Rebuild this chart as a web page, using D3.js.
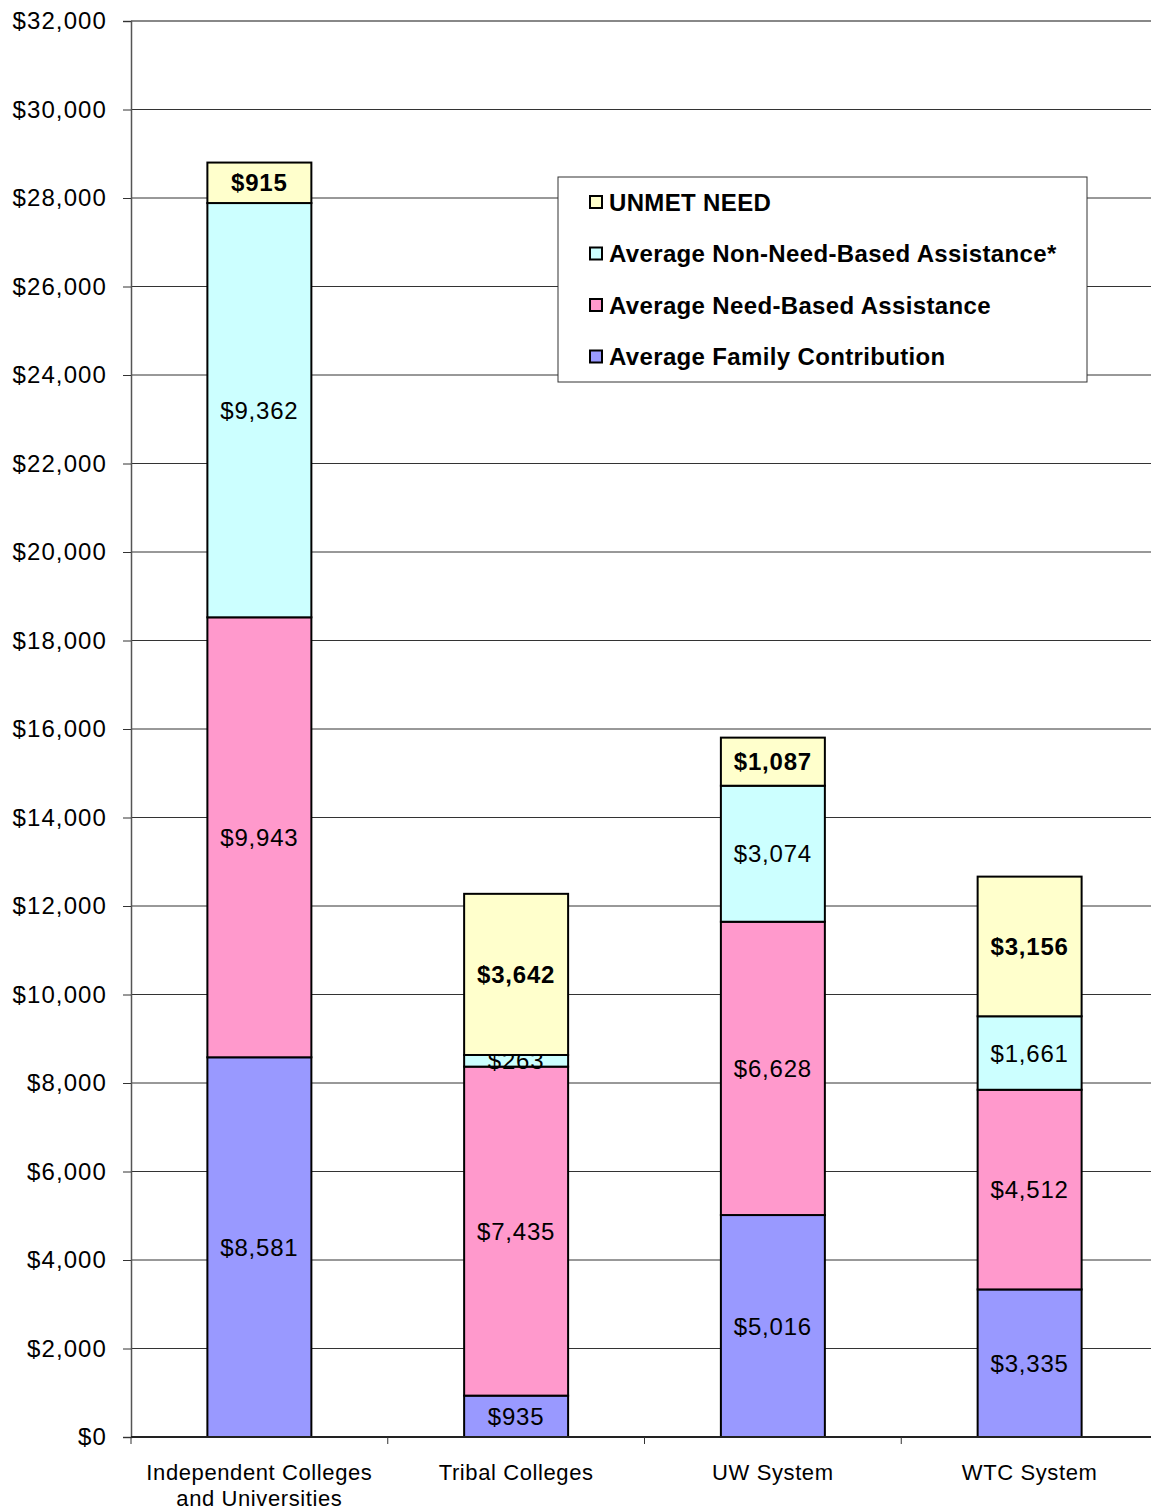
<!DOCTYPE html>
<html>
<head>
<meta charset="utf-8">
<script src="https://cdn.jsdelivr.net/npm/d3@7"></script>
<style>
    body { margin: 0; background: #fff; }
    svg { display: block; font-family: "Liberation Sans", Arial, sans-serif; }
</style>
</head>
<body>
<svg id="chart" width="1151" height="1512"></svg>
<script>
// chart data
const categories = [['Independent Colleges', 'and Universities'], ['Tribal Colleges'], ['UW System'], ['WTC System']];
const seriesNames = ['Average Family Contribution', 'Average Need-Based Assistance', 'Average Non-Need-Based Assistance*', 'UNMET NEED'];
const familyContribution = [8581, 935, 5016, 3335];
const needBased = [9943, 7435, 6628, 4512];
const nonNeedBased = [9362, 263, 3074, 1661];
const unmetNeed = [915, 3642, 1087, 3156];
const yTicks = [0, 2000, 4000, 6000, 8000, 10000, 12000, 14000, 16000, 18000, 20000, 22000, 24000, 26000, 28000, 30000, 32000];

const colors = ['#9999ff', '#ff99cc', '#ccffff', '#ffffcc'];

const svg = d3.select('#chart');
const margin = {top: 21, right: -7, bottom: 75, left: 131};
const width = +svg.attr('width') - margin.left - margin.right;
const height = +svg.attr('height') - margin.top - margin.bottom;

const g = svg.append('g')
    .attr('transform', `translate(${margin.left},${margin.top})`);

const rows = categories.map((c, i) => ({
    idx: i,
    s0: familyContribution[i],
    s1: needBased[i],
    s2: nonNeedBased[i],
    s3: unmetNeed[i]
}));

const stack = d3.stack().keys(['s0', 's1', 's2', 's3']);
const stacked = stack(rows);

const x = d3.scaleBand()
    .domain(d3.range(categories.length))
    .range([0, width])
    .paddingInner(0.595)
    .paddingOuter(0.2975);

const y = d3.scaleLinear()
    .domain([0, 32000])
    .range([height, 0]);

// gridlines
g.append('g')
    .selectAll('line')
    .data(yTicks.slice(1))
    .enter().append('line')
    .attr('x1', 0)
    .attr('x2', width)
    .attr('y1', d => y(d))
    .attr('y2', d => y(d))
    .attr('stroke', d => d === 32000 ? '#888' : '#333')
    .attr('stroke-width', d => d === 32000 ? 2 : 1);

// y axis
const yAxis = d3.axisLeft(y)
    .tickValues(yTicks)
    .tickSize(8)
    .tickFormat(d => '$' + d3.format(',')(d));

g.append('g')
    .attr('class', 'y-axis')
    .call(yAxis)
    .call(a => a.select('.domain').attr('stroke', '#555').attr('stroke-width', 1.5))
    .call(a => a.selectAll('.tick line').attr('stroke', '#333'))
    .call(a => a.selectAll('.tick text')
        .attr('font-size', 24)
        .attr('letter-spacing', 1.1)
        .attr('fill', '#000')
        .attr('x', -24)
        .attr('font-family', '"Liberation Sans", Arial, sans-serif'));

// bars
const layer = g.selectAll('.layer')
    .data(stacked)
    .enter().append('g')
    .attr('class', 'layer')
    .attr('fill', (d, i) => colors[i]);

layer.selectAll('rect')
    .data(d => d)
    .enter().append('rect')
    .attr('x', d => x(d.data.idx))
    .attr('width', x.bandwidth())
    .attr('y', d => y(d[1]))
    .attr('height', d => y(d[0]) - y(d[1]))
    .attr('stroke', '#000')
    .attr('stroke-width', 2);

// x axis
const xAxisG = g.append('g')
    .attr('transform', `translate(0,${height})`);

xAxisG.append('line')
    .attr('x1', 0)
    .attr('x2', width)
    .attr('stroke', '#222')
    .attr('stroke-width', 2);

xAxisG.selectAll('.xtick')
    .data(d3.range(categories.length + 1))
    .enter().append('line')
    .attr('x1', d => d * x.step())
    .attr('x2', d => d * x.step())
    .attr('y1', 0)
    .attr('y2', 7)
    .attr('stroke', '#333');

xAxisG.selectAll('.xlabel')
    .data(categories)
    .enter().append('text')
    .attr('text-anchor', 'middle')
    .attr('font-size', 22)
    .attr('letter-spacing', 0.6)
    .attr('x', (d, i) => x(i) + x.bandwidth() / 2)
    .attr('y', 43)
    .selectAll('tspan')
    .data(d => d)
    .enter().append('tspan')
    .attr('x', function () { return d3.select(this.parentNode).attr('x'); })
    .attr('dy', (d, i) => i === 0 ? 0 : 26)
    .text(d => d);

// data labels
layer.selectAll('text')
    .data((d, i) => d.map(p => ({p, series: i})))
    .enter().append('text')
    .attr('text-anchor', 'middle')
    .attr('dominant-baseline', 'central')
    .attr('fill', '#000')
    .attr('font-size', 24)
    .attr('letter-spacing', 0.8)
    .attr('font-weight', d => d.series === 3 ? 'bold' : 'normal')
    .attr('x', d => x(d.p.data.idx) + x.bandwidth() / 2)
    .attr('y', d => (y(d.p[0]) + y(d.p[1])) / 2)
    .text(d => '$' + d3.format(',')(d.p[1] - d.p[0]));

// legend
const legend = svg.append('g')
    .attr('transform', 'translate(558,177)');

legend.append('rect')
    .attr('width', 529)
    .attr('height', 205)
    .attr('fill', '#fff')
    .attr('stroke', '#333')
    .attr('stroke-width', 1);

const legendOrder = [3, 2, 1, 0];
const item = legend.selectAll('.item')
    .data(legendOrder)
    .enter().append('g')
    .attr('transform', (d, i) => `translate(32,${25 + i * 51.5})`);

item.append('rect')
    .attr('x', 0)
    .attr('y', -6)
    .attr('width', 12)
    .attr('height', 12)
    .attr('fill', d => colors[d])
    .attr('stroke', '#000')
    .attr('stroke-width', 2);

item.append('text')
    .attr('x', 19)
    .attr('dominant-baseline', 'central')
    .attr('font-size', 24)
    .attr('letter-spacing', 0.35)
    .attr('font-weight', 'bold')
    .text(d => seriesNames[d]);
</script>
</body>
</html>
